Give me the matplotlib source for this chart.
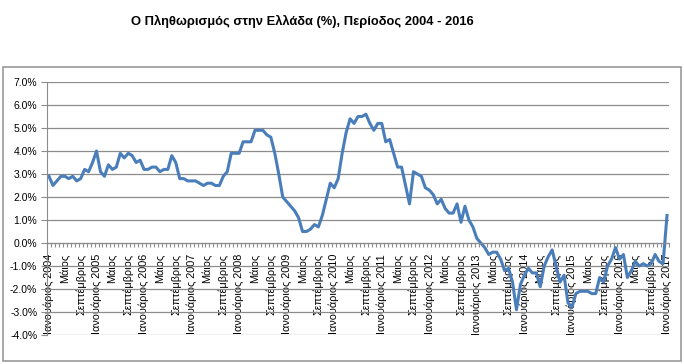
import matplotlib.pyplot as plt
from matplotlib.patches import Rectangle
from matplotlib.ticker import FuncFormatter, FixedLocator
import numpy as np

# ετήσιος πληθωρισμός (%) ανά μήνα, Ιανουάριος - Δεκέμβριος
infl_2004 = [2.9, 2.5, 2.7, 2.9, 2.9, 2.8, 2.9, 2.7, 2.8, 3.2, 3.1, 3.5]
infl_2005 = [4.0, 3.1, 2.9, 3.4, 3.2, 3.3, 3.9, 3.7, 3.9, 3.8, 3.5, 3.6]
infl_2006 = [3.2, 3.2, 3.3, 3.3, 3.1, 3.2, 3.2, 3.8, 3.5, 2.8, 2.8, 2.7]
infl_2007 = [2.7, 2.7, 2.6, 2.5, 2.6, 2.6, 2.5, 2.5, 2.9, 3.1, 3.9, 3.9]
infl_2008 = [3.9, 4.4, 4.4, 4.4, 4.9, 4.9, 4.9, 4.7, 4.6, 3.9, 3.0, 2.0]
infl_2009 = [1.8, 1.6, 1.4, 1.1, 0.5, 0.5, 0.6, 0.8, 0.7, 1.2, 1.9, 2.6]
infl_2010 = [2.4, 2.8, 3.9, 4.8, 5.4, 5.2, 5.5, 5.5, 5.6, 5.2, 4.9, 5.2]
infl_2011 = [5.2, 4.4, 4.5, 3.9, 3.3, 3.3, 2.5, 1.7, 3.1, 3.0, 2.9, 2.4]
infl_2012 = [2.3, 2.1, 1.7, 1.9, 1.5, 1.3, 1.3, 1.7, 0.9, 1.6, 1.0, 0.7]
infl_2013 = [0.2, 0.0, -0.2, -0.5, -0.4, -0.4, -0.7, -1.2, -1.1, -1.7, -2.9, -1.8]
infl_2014 = [-1.4, -1.1, -1.3, -1.3, -1.9, -1.0, -0.6, -0.3, -1.0, -1.7, -1.4, -2.6]
infl_2015 = [-2.8, -2.2, -2.1, -2.1, -2.1, -2.2, -2.2, -1.5, -1.7, -1.0, -0.7, -0.2]
infl_2016 = [-0.7, -0.5, -1.5, -1.2, -0.8, -1.0, -0.9, -1.0, -0.9, -0.5, -0.8, -0.9]
infl_2017 = [1.2]

values = (infl_2004 + infl_2005 + infl_2006 + infl_2007 + infl_2008 + infl_2009
          + infl_2010 + infl_2011 + infl_2012 + infl_2013 + infl_2014 + infl_2015
          + infl_2016 + infl_2017)
years = list(range(2004, 2018))
month_names = {0: "Ιανουάριος", 4: "Μάιος", 8: "Σεπτέμβριος"}

x = np.arange(len(values))
tick_pos = x[::4]
tick_labels = []
for i in tick_pos:
    m = i % 12
    if m == 0:
        tick_labels.append(f"{month_names[0]} {years[i // 12]}")
    else:
        tick_labels.append(month_names[m])

plt.rcParams["font.family"] = ["Liberation Sans", "DejaVu Sans"]

fig = plt.figure(figsize=(6.84, 3.64), dpi=100)
fig.add_artist(Rectangle((3 / 684, 3 / 364), 678 / 684, 294 / 364,
                         transform=fig.transFigure, fill=False,
                         edgecolor="#9a9a9a", lw=1.2))
fig.text(0.442, 0.942, "Ο Πληθωρισμός στην Ελλάδα (%), Περίοδος 2004 - 2016",
         ha="center", va="center", fontsize=9.3, fontweight="bold")

ax = fig.add_axes([47 / 684, 1 - 335 / 364, 622 / 684, 253 / 364])
ax.plot(x, values, color="#4A7EBB", lw=2.2, solid_joinstyle="round")

ax.set_xlim(-0.5, len(values) - 0.5)
ax.set_ylim(-4, 7)
ax.set_yticks(np.arange(-4, 8, 1))
ax.yaxis.set_major_formatter(FuncFormatter(lambda v, p: f"{v:.1f}%"))
ax.grid(axis="y", color="#8c8c8c", lw=0.9)
ax.set_axisbelow(True)

for s in ["top", "right"]:
    ax.spines[s].set_visible(False)
ax.spines["left"].set_color("#8c8c8c")
ax.spines["bottom"].set_position(("data", 0))
ax.spines["bottom"].set_color("#8c8c8c")

ax.set_xticks(tick_pos)
ax.set_xticklabels(tick_labels, rotation=90, rotation_mode="anchor",
                   ha="right", va="center", fontsize=7.8)
ax.xaxis.set_minor_locator(FixedLocator(np.arange(-0.5, len(values), 1)))
ax.tick_params(axis="x", which="major", length=0, pad=8)
ax.tick_params(axis="x", which="minor", length=3, color="#8c8c8c", width=0.8)
ax.tick_params(axis="y", length=4, color="#8c8c8c", labelsize=7.5, pad=3)

fig.savefig("out.png", dpi=100)
